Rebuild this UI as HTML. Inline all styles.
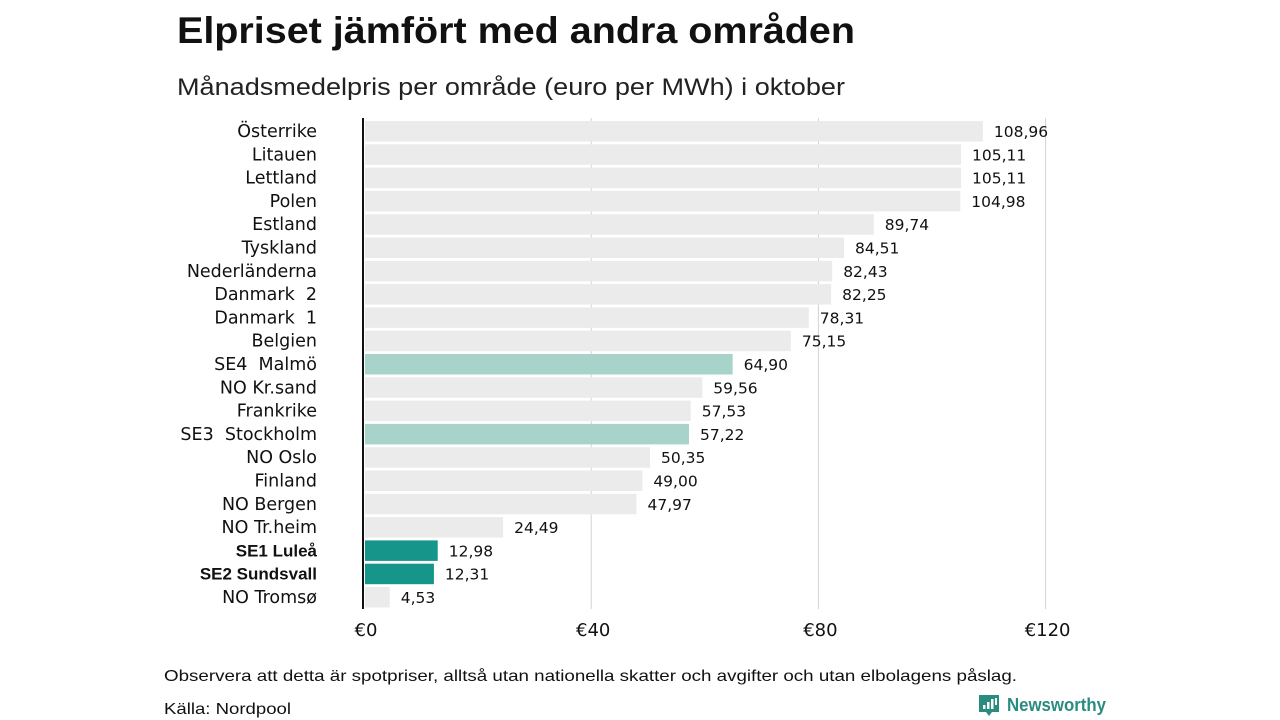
<!DOCTYPE html>
<html><head><meta charset="utf-8"><style>
body{margin:0;background:#fff;font-family:"Liberation Sans","DejaVu Sans",sans-serif}
#c{position:relative;width:1280px;height:720px;overflow:hidden}
</style></head><body>
<div id="c">
<svg id="s" width="1280" height="720">
<text x="177" y="43" font-size="37" font-weight="bold" fill="#111" textLength="678" lengthAdjust="spacingAndGlyphs">Elpriset jämfört med andra områden</text>
<text x="177" y="95" font-size="24" fill="#222" textLength="668" lengthAdjust="spacingAndGlyphs">Månadsmedelpris per område (euro per MWh) i oktober</text>
<text x="164" y="681" font-size="16" fill="#111" textLength="853" lengthAdjust="spacingAndGlyphs">Observera att detta är spotpriser, alltså utan nationella skatter och avgifter och utan elbolagens påslag.</text>
<text x="164" y="714" font-size="16" fill="#111" textLength="127" lengthAdjust="spacingAndGlyphs">Källa: Nordpool</text>
<g>
<path d="M979 695h20v17h-7l-3 4-3-4h-7z" fill="#2a8c80"/>
<rect x="983" y="705" width="2.5" height="4" fill="#fff"/><rect x="987" y="702" width="2.5" height="7" fill="#fff"/><rect x="991" y="699" width="2.5" height="10" fill="#fff"/><rect x="995" y="698" width="2" height="7" fill="#fff"/>
<text x="1007" y="711" font-size="18" font-weight="bold" fill="#2a8c80" textLength="99" lengthAdjust="spacingAndGlyphs">Newsworthy</text>
</g>
<g id="grid"></g><g id="bars"></g>
<line x1="363" y1="118" x2="363" y2="609" stroke="#111" stroke-width="2"/>
</svg></div>
<script>
const categories=["Österrike","Litauen","Lettland","Polen","Estland","Tyskland","Nederländerna","Danmark  2","Danmark  1","Belgien","SE4  Malmö","NO Kr.sand","Frankrike","SE3  Stockholm","NO Oslo","Finland","NO Bergen","NO Tr.heim","SE1 Luleå","SE2 Sundsvall","NO Tromsø"];
const values=[108.96,105.11,105.11,104.98,89.74,84.51,82.43,82.25,78.31,75.15,64.90,59.56,57.53,57.22,50.35,49.00,47.97,24.49,12.98,12.31,4.53];
const highlight=["","","","","","","","","","","light","","","light","","","","","dark","dark",""];
const ticks=[0,40,80,120];
const NS="http://www.w3.org/2000/svg";
const x=v=>364+v*5.68;
const y=i=>121+i*23.3;
function el(t,a,p){const e=document.createElementNS(NS,t);for(const k in a)e.setAttribute(k,a[k]);p.appendChild(e);return e;}
const g=document.getElementById('grid'),b=document.getElementById('bars');
ticks.forEach(t=>{
 if(t>0){const l=el('line',{x1:x(t),x2:x(t),y1:118,y2:609,stroke:'#d0d3d8','stroke-width':1},g);
 
 }
 const tx=el('text',{x:x(t)+2,y:636,'font-size':18,'text-anchor':'middle',fill:'#111','font-family':'DejaVu Sans, sans-serif'},g);
 tx.textContent='€'+t;
 
 
});
categories.forEach((c,i)=>{
 const h=highlight[i];
 const r=el('rect',{x:365,y:y(i),width:x(values[i])-365,height:20.5,fill:h==='dark'?'#16968a':h==='light'?'#a8d3cb':'#ebebeb'},b);
 
 
 const lb=el('text',{x:317,y:y(i)+16,'font-size':h==='dark'?17:17.5,'font-weight':h==='dark'?'bold':'normal','text-anchor':'end',fill:'#111','font-family':h==='dark'?'Liberation Sans, sans-serif':'DejaVu Sans, sans-serif'},b);
 lb.setAttribute('style','white-space:pre');
 lb.textContent=c;
 
 
 const vl=el('text',{x:x(values[i])+11,y:y(i)+16,'font-size':15.5,fill:'#111','font-family':'DejaVu Sans, sans-serif'},b);
 vl.textContent=values[i].toFixed(2).replace('.',',');
 
 
});
</script>
</body></html>
